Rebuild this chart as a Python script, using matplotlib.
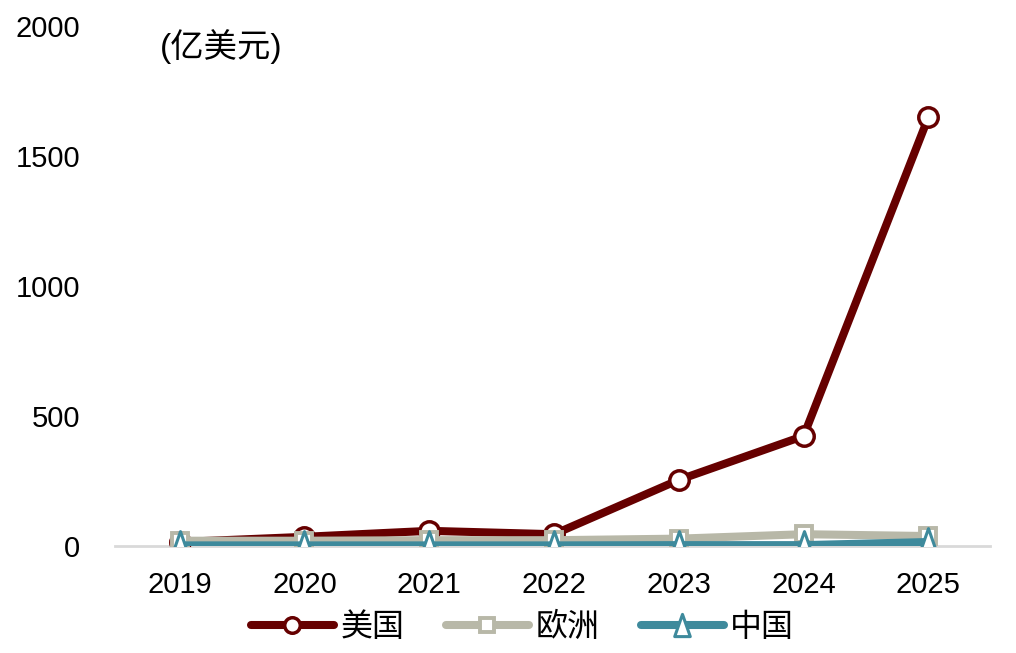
import numpy as np
import matplotlib.pyplot as plt
from matplotlib.path import Path

plt.rcParams['font.family'] = ['Liberation Sans', 'Noto Sans CJK SC', 'DejaVu Sans']

years = [2019, 2020, 2021, 2022, 2023, 2024, 2025]
usa = [15, 35, 58, 45, 254, 423, 1650]
europe = [20, 20, 22, 22, 28, 45, 38]
china = [2, 2, 2, 2, 3, 3, 15]

c_us = '#660000'
c_eu = '#B8B8A8'
c_cn = '#3E8A9C'

# narrow triangle like the reference
tri = Path([(-0.7, -1), (0.7, -1), (0, 1), (-0.7, -1)],
           [Path.MOVETO, Path.LINETO, Path.LINETO, Path.CLOSEPOLY])

fig = plt.figure(figsize=(10.16, 6.53), dpi=100)
ax = fig.add_axes([0.113, 0.164, 0.861, 0.796])

ax.plot(years, usa, color=c_us, lw=5.8, marker='o', ms=14, mfc='white',
        mec=c_us, mew=2.5, label='美国', zorder=2, solid_capstyle='round')
ax.plot(years, europe, color=c_eu, lw=5.8, marker='s', ms=12, mfc='white',
        mec=c_eu, mew=2.8, label='欧洲', zorder=3, solid_capstyle='round')
ax.plot(years, china, color=c_cn, lw=5.8, marker=tri, ms=20, mfc='white',
        mec=c_cn, mew=2.2, label='中国', zorder=4, solid_capstyle='round')

ax.set_xlim(2018.48, 2025.49)
ax.set_ylim(0, 2000)
ax.set_xticks(years)
ax.set_yticks([0, 500, 1000, 1500, 2000])
ax.tick_params(axis='both', length=0, labelsize=21, colors='black')
ax.tick_params(axis='x', pad=18)
ax.tick_params(axis='y', pad=25)

for s in ['top', 'right', 'left']:
    ax.spines[s].set_visible(False)
ax.spines['bottom'].set_color('#D9D9D9')
ax.spines['bottom'].set_linewidth(2)
ax.spines['bottom'].set_zorder(1)

ax.text(0.051, 0.961, '(亿美元)', transform=ax.transAxes, fontsize=24,
        ha='left', va='center')

leg = ax.legend(loc='center', bbox_to_anchor=(0.466, -0.158), ncol=3,
                frameon=False, prop={'size': 23}, handlelength=2.6,
                columnspacing=1.3, handletextpad=0.2, markerscale=0.8)

fig.savefig('out.png', dpi=100)
